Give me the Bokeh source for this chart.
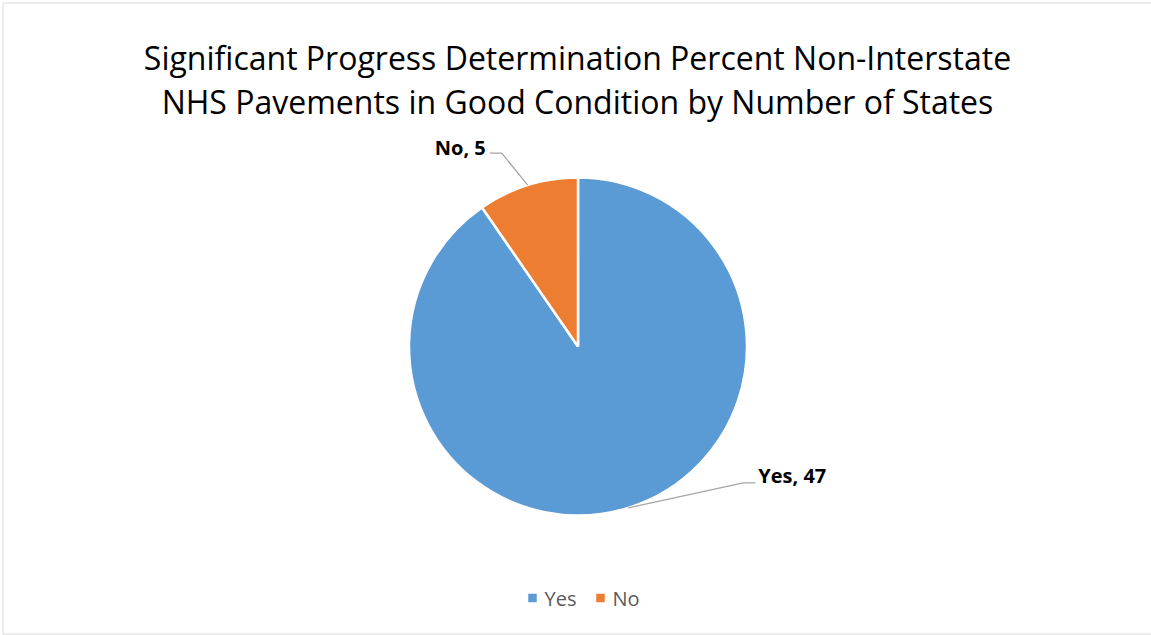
import math
from bokeh.plotting import figure
from bokeh.models import Range1d, ColumnDataSource
from bokeh.core.properties import value
from bokeh.embed import file_html
from bokeh.resources import INLINE

# ---- data ----
categories = ["Yes", "No"]
counts = [47, 5]
colors = ["#5B9BD5", "#ED7D31"]
title_lines = ["Significant Progress Determination Percent Non-Interstate",
               "NHS Pavements in Good Condition by Number of States"]

W, H = 1151, 635


def Y(page_y):
    return H - page_y  # page y (down) -> data y (up)


p = figure(width=W, height=H, output_backend="svg", toolbar_location=None,
           x_range=Range1d(0, W), y_range=Range1d(0, H),
           min_border=0, outline_line_color=None)
p.axis.visible = False
p.grid.visible = False
p.background_fill_color = "white"

# chart border
p.quad(left=[2.5], right=[1160], bottom=[Y(633.5)], top=[Y(2.5)],
       fill_color=None, line_color="#D9D9D9", line_width=1)

# ---- pie ----
cx, cy, r = 577.5, Y(346), 169
total = sum(counts)
starts, ends, mids = [], [], []
acc = 0.0
for c in counts:
    a0 = math.pi / 2 - 2 * math.pi * acc / total
    acc += c
    a1 = math.pi / 2 - 2 * math.pi * acc / total
    starts.append(a0)
    ends.append(a1)
    mids.append((a0 + a1) / 2)

src = ColumnDataSource(dict(cat=categories, val=counts, color=colors,
                            start=starts, end=ends))
p.wedge(x=cx, y=cy, radius=r, start_angle="start", end_angle="end",
        direction="clock", fill_color="color", line_color="white",
        line_width=2.5, source=src)

# ---- data labels with leader lines ----
lab_font = value("Open Sans")
for i, cat in enumerate(categories):
    ax = cx + r * math.cos(mids[i])
    ay = cy + r * math.sin(mids[i])
    label = f"{cat}, {counts[i]}"
    if math.cos(mids[i]) > 0 and math.sin(mids[i]) < 0:
        ex, ey = ax + 115, ay + 25
        hx = ex + 12
        p.line([ax, ex, hx], [ay, ey, ey], line_color="#A6A6A6", line_width=1.3)
        p.text(x=[hx + 3], y=[ey + 7], text=[label], text_font=lab_font,
               text_font_size="20px", text_font_style="bold",
               text_color="#000000", text_align="left", text_baseline="middle")
    else:
        ex, ey = ax - 26, ay + 32
        hx = ex - 12
        p.line([ax, ex, hx], [ay, ey, ey], line_color="#A6A6A6", line_width=1.3)
        p.text(x=[hx - 4], y=[ey + 6], text=[label], text_font=lab_font,
               text_font_size="20px", text_font_style="bold",
               text_color="#000000", text_align="right", text_baseline="middle")

# ---- title ----
p.text(x=[577, 577], y=[Y(57), Y(101)], text=title_lines,
       text_font=value("Open Sans"), text_font_size="32px", text_color="#000000",
       text_align="center", text_baseline="alphabetic")

# ---- legend ----
leg_x = [532, 600]
leg_y = Y(597.5)
p.scatter(x=leg_x, y=[leg_y] * 2, marker="square", size=8.5,
          fill_color=colors, line_color=None)
p.text(x=[lx + 12 for lx in leg_x], y=[leg_y] * 2, text=categories,
       text_font=value("Open Sans"), text_font_size="20px", text_color="#595959",
       text_align="left", text_baseline="middle")

open("out.html", "w").write(file_html(p, INLINE))
